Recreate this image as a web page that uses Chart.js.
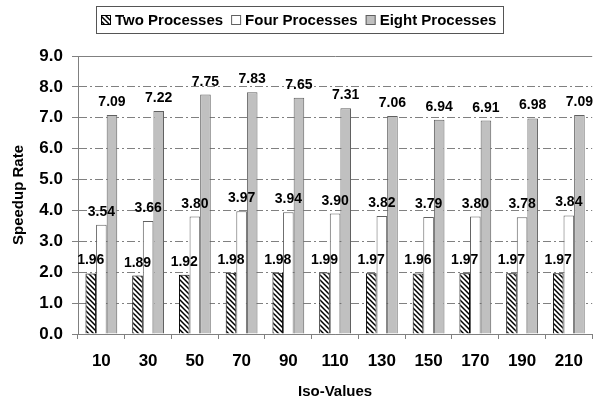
<!DOCTYPE html>
<html>
<head>
<meta charset="utf-8">
<script src="https://cdn.jsdelivr.net/npm/chart.js@4/dist/chart.umd.min.js"></script>
<style>
  html, body { margin: 0; padding: 0; background: #fff; }
</style>
</head>
<body>
<canvas id="myChart" width="595" height="400"></canvas>
<script>
// data
const isoValues = ['10', '30', '50', '70', '90', '110', '130', '150', '170', '190', '210'];
const twoProcesses = [1.96, 1.89, 1.92, 1.98, 1.98, 1.99, 1.97, 1.96, 1.97, 1.97, 1.97];
const fourProcesses = [3.54, 3.66, 3.80, 3.97, 3.94, 3.90, 3.82, 3.79, 3.80, 3.78, 3.84];
const eightProcesses = [7.09, 7.22, 7.75, 7.83, 7.65, 7.31, 7.06, 6.94, 6.91, 6.98, 7.09];
const seriesNames = ['Two Processes', 'Four Processes', 'Eight Processes'];
const yTicks = [0, 1, 2, 3, 4, 5, 6, 7, 8, 9];

const FONT = '"Liberation Sans", Arial, sans-serif';
Chart.defaults.font.family = FONT;
Chart.defaults.color = '#000';

// diagonal hatch like the old excel fill
function makeHatch() {
  const c = document.createElement('canvas');
  c.width = 5;
  c.height = 5;
  const g = c.getContext('2d');
  g.fillStyle = '#fff';
  g.fillRect(0, 0, 5, 5);
  g.strokeStyle = '#000';
  g.lineWidth = 1.5;
  g.beginPath();
  g.moveTo(-1, -1); g.lineTo(6, 6);
  g.moveTo(-1, 4); g.lineTo(1, 6);
  g.moveTo(4, -1); g.lineTo(6, 1);
  g.stroke();
  return g.createPattern(c, 'repeat');
}

const valueLabels = {
  id: 'valueLabels',
  afterDatasetsDraw(chart) {
    const ctx = chart.ctx;
    ctx.save();
    ctx.font = 'bold 14px ' + FONT;
    ctx.fillStyle = '#000';
    ctx.textAlign = 'center';
    ctx.textBaseline = 'alphabetic';
    chart.data.datasets.forEach((ds, i) => {
      chart.getDatasetMeta(i).data.forEach((bar, j) => {
        ctx.fillText(ds.data[j].toFixed(2), bar.x, bar.y - 9);
      });
    });
    ctx.restore();
  }
};

// legend in a box, centred at the top
const boxedLegend = {
  id: 'boxedLegend',
  afterDraw(chart) {
    const ctx = chart.ctx;
    ctx.save();
    ctx.font = 'bold 15px ' + FONT;
    const sw = 10, gapIcon = 4, gapItem = 8, padL = 5, padR = 7;
    const widths = seriesNames.map(n => ctx.measureText(n).width);
    let total = padL + padR + gapItem * (widths.length - 1);
    widths.forEach(w => { total += sw + gapIcon + w; });
    total = Math.round(total);
    const top = 6, h = 27;
    const left = Math.round(299.5 - total / 2);
    ctx.strokeStyle = '#555';
    ctx.lineWidth = 1;
    ctx.strokeRect(left + 0.5, top + 0.5, total, h);
    let x = left + padL;
    const cy = top + h / 2 + 0.5;
    chart.data.datasets.forEach((ds, i) => {
      const by = Math.round(cy - sw / 2);
      ctx.fillStyle = ds.backgroundColor;
      ctx.fillRect(x, by, sw, sw);
      ctx.strokeStyle = ds.borderColor;
      ctx.strokeRect(x + 0.5, by + 0.5, sw - 1, sw - 1);
      x += sw + gapIcon;
      ctx.fillStyle = '#000';
      ctx.textBaseline = 'middle';
      ctx.fillText(seriesNames[i], x, cy + 1);
      x += widths[i] + gapItem;
    });
    ctx.restore();
  }
};

new Chart(document.getElementById('myChart'), {
  type: 'bar',
  data: {
    labels: isoValues,
    datasets: [
      { label: seriesNames[0], data: twoProcesses, backgroundColor: makeHatch(), borderColor: '#000', borderWidth: 1 },
      { label: seriesNames[1], data: fourProcesses, backgroundColor: '#fff', borderColor: '#606060', borderWidth: 1 },
      { label: seriesNames[2], data: eightProcesses, backgroundColor: '#c0c0c0', borderColor: '#606060', borderWidth: 1 }
    ]
  },
  options: {
    responsive: false,
    animation: false,
    devicePixelRatio: 1,
    categoryPercentage: 0.68,
    barPercentage: 1.0,
    layout: { padding: { top: 56, right: -2, bottom: 0, left: 0 } },
    plugins: {
      legend: { display: false },
      tooltip: { enabled: false }
    },
    scales: {
      x: {
        afterFit: s => { s.height = 66; },
        grid: { offset: true, drawOnChartArea: false, tickLength: 5, color: '#808080' },
        border: { color: '#808080' },
        ticks: { padding: 12, font: { size: 17, weight: 'bold' }, maxRotation: 0 },
        title: { display: true, text: 'Iso-Values', font: { size: 15, weight: 'bold' }, padding: { top: 0, bottom: -1 } }
      },
      y: {
        min: 0,
        max: 9,
        afterFit: s => { s.width = 78; },
        afterBuildTicks: s => { s.ticks = yTicks.map(v => ({ value: v })); },
        grid: {
          color: '#808080',
          tickLength: 6,
          tickColor: '#808080',
          tickBorderDash: []
        },
        border: {
          color: '#808080',
          dash: c => (c.tick && c.tick.value > 0 && c.tick.value < 9) ? [8, 3, 2, 3] : []
        },
        ticks: {
          padding: 9,
          font: { size: 17, weight: 'bold' },
          callback: v => Number(v).toFixed(1)
        },
        title: { display: true, text: 'Speedup Rate', font: { size: 15, weight: 'bold' }, padding: { top: 10, bottom: 0 } }
      }
    }
  },
  plugins: [valueLabels, boxedLegend]
});
</script>
</body>
</html>
